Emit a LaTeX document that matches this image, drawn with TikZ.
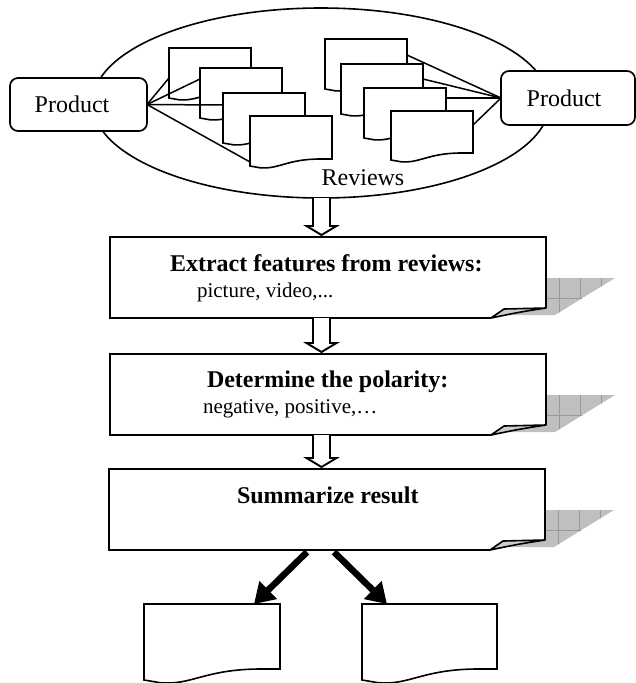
\documentclass[tikz,border=0pt]{standalone}
\usepackage{fontspec}
\setmainfont{Liberation Serif}
\usetikzlibrary{shapes.geometric,arrows.meta,calc}

% document symbol with a wavy lower edge: name, x, y, width, left height, dip
\newcommand\reviewdoc[6]{%
  \node[minimum width=#4pt, minimum height=#5pt, anchor=north west] (#1) at (#2,#3) {};
  \draw[docpath] (#2,#3) -- ({#2+#4},#3) -- ({#2+#4},{#3+#5-#6}) -- ({#2+0.86*#4},{#3+#5-#6})
     .. controls ({#2+0.45*#4},{#3+#5-#6}) and ({#2+0.35*#4},{#3+#5+0.5*#6}) .. ({#2+0.12*#4},{#3+#5+0.25*#6})
     .. controls ({#2+0.05*#4},{#3+#5+0.1*#6}) .. (#2,{#3+#5}) -- cycle;
}

% process step with a curled corner and a hatched shadow: name, x, y
\newcommand\processbox[3]{%
  \fill[gray!50] ({#2+376},{#3+41}) -- ({#2+505},{#3+41}) -- ({#2+445},{#3+78}) -- ({#2+376},{#3+78}) -- cycle;
  \begin{scope}
    \clip ({#2+376},{#3+41}) -- ({#2+505},{#3+41}) -- ({#2+445},{#3+78}) -- ({#2+376},{#3+78}) -- cycle;
    \foreach \k in {0,...,3} \draw[gray!80, line width=0.6pt] ({#2+449+21*\k},{#3+41}) -- ++(0,40);
    \draw[gray!80, line width=0.6pt] ({#2+370},{#3+61}) -- ++(150,0);
  \end{scope}
  \node[minimum width=436pt, minimum height=81pt, anchor=north west] (#1) at (#2,#3) {};
  \fill[white] (#2,#3) -- ({#2+436},#3) -- ({#2+436},{#3+71}) -- ({#2+381},{#3+81}) -- (#2,{#3+81}) -- cycle;
  \draw[boxline] ({#2+436},{#3+71}) -- ({#2+436},#3) -- (#2,#3) -- (#2,{#3+81}) -- ({#2+381},{#3+81});
  \draw[foldtri] ({#2+381},{#3+81}) -- ({#2+394},{#3+72}) -- ({#2+436},{#3+71})
     .. controls ({#2+410},{#3+75}) .. ({#2+381},{#3+81}) -- cycle;
}

% hollow block arrow between two nodes along the central column
\newcommand\hollowarrow[2]{%
  \draw[hollowarr] ($(ax |- #1.south)+(-8.5,0)$) -- ($(ax |- #2.north)+(-8.5,-11)$)
     -- ($(ax |- #2.north)+(-15,-11)$) -- ($(ax |- #2.north)+(0,-2)$)
     -- ($(ax |- #2.north)+(15,-11)$) -- ($(ax |- #2.north)+(8.5,-11)$)
     -- ($(ax |- #1.south)+(8.5,0)$);
}

\begin{document}
\begin{tikzpicture}[x=1pt,y=-1pt,
  every node/.style={inner sep=0pt, outer sep=0pt},
  docpath/.style={draw, fill=white, line width=1.6pt, line join=miter},
  prodbox/.style={draw, fill=white, rounded corners=8pt, line width=1.7pt, font=\fontsize{24}{28}\selectfont},
  ttl/.style={font=\fontsize{24}{28}\selectfont\bfseries, anchor=base west},
  subtxt/.style={font=\fontsize{21}{25}\selectfont, anchor=base west},
  boxline/.style={line width=2.2pt, line join=miter},
  foldtri/.style={draw, fill=gray!40, line width=1.6pt, line join=round},
  hollowarr/.style={draw, fill=white, line width=1.9pt, line join=miter},
  revlink/.style={line width=1.5pt},
  bigarr/.style={line width=6.5pt, -{Triangle[length=20pt,width=24pt]}},
]
\useasboundingbox (0,0) rectangle (636,683);
\coordinate (ax) at (321.5,0);

% review collection
\node[ellipse, draw, fill=white, line width=1.6pt, minimum width=457pt, minimum height=190pt] (rev) at (321,103) {};

\reviewdoc{la}{169}{48}{82}{50}{7}
\reviewdoc{lb}{200}{68}{82}{50}{7}
\reviewdoc{lc}{223}{93}{82}{50}{7}
\reviewdoc{ld}{250}{116}{82}{50}{7}

\reviewdoc{ra}{325}{39}{82}{50}{7}
\reviewdoc{rb}{341}{64}{82}{50}{7}
\reviewdoc{rc}{364}{88}{82}{50}{7}
\reviewdoc{rd}{391}{111}{82}{49}{7}

\node[font=\fontsize{24}{28}\selectfont, anchor=base] (revlbl) at (363,185) {Reviews};

% products
\node[prodbox, minimum width=137pt, minimum height=53pt] (pl) at (78.5,104.5) {\hspace*{-13pt}Product};
\node[prodbox, minimum width=134pt, minimum height=54pt] (pr) at (568,98) {\hspace*{-8pt}Product};

\draw[revlink] (pl.east) -- ($(la.north west)+(0,30)$);
\draw[revlink] (pl.east) -- ($(lb.north west)+(0,11)$);
\draw[revlink] (pl.east) -- ($(lc.north west)+(0,12)$);
\draw[revlink] (pl.east) -- ($(ld.north west)+(0,46)$);

\draw[revlink] (pr.west) -- ($(ra.north east)+(0,16)$);
\draw[revlink] (pr.west) -- ($(rb.north east)+(0,15)$);
\draw[revlink] (pr.west) -- ($(rc.north east)+(0,10)$);
\draw[revlink] (pr.west) -- ($(rd.north east)+(0,14)$);

% processing steps
\processbox{b1}{110}{237}
\processbox{b2}{110}{354}
\processbox{b3}{109}{469}

\node[ttl] (t1) at (170,271) {Extract features from reviews:};
\node[subtxt] (s1) at (197,297) {picture, video,...};
\node[ttl] (t2) at (207,387) {Determine the polarity:};
\node[subtxt] (s2) at (203,413) {negative, positive,…};
\node[ttl] (t3) at (237,503) {Summarize result};

\hollowarrow{rev}{b1}
\hollowarrow{b1}{b2}
\hollowarrow{b2}{b3}

% outputs
\reviewdoc{oa}{144}{604}{136}{76}{11}
\reviewdoc{ob}{362}{604}{135}{76}{11}

\draw[bigarr] ($(b3.south west)+(198,2)$) -- ($(oa.north east)+(-26,0)$);
\draw[bigarr] ($(b3.south west)+(225,2)$) -- ($(ob.north west)+(25,0)$);
\end{tikzpicture}
\end{document}
